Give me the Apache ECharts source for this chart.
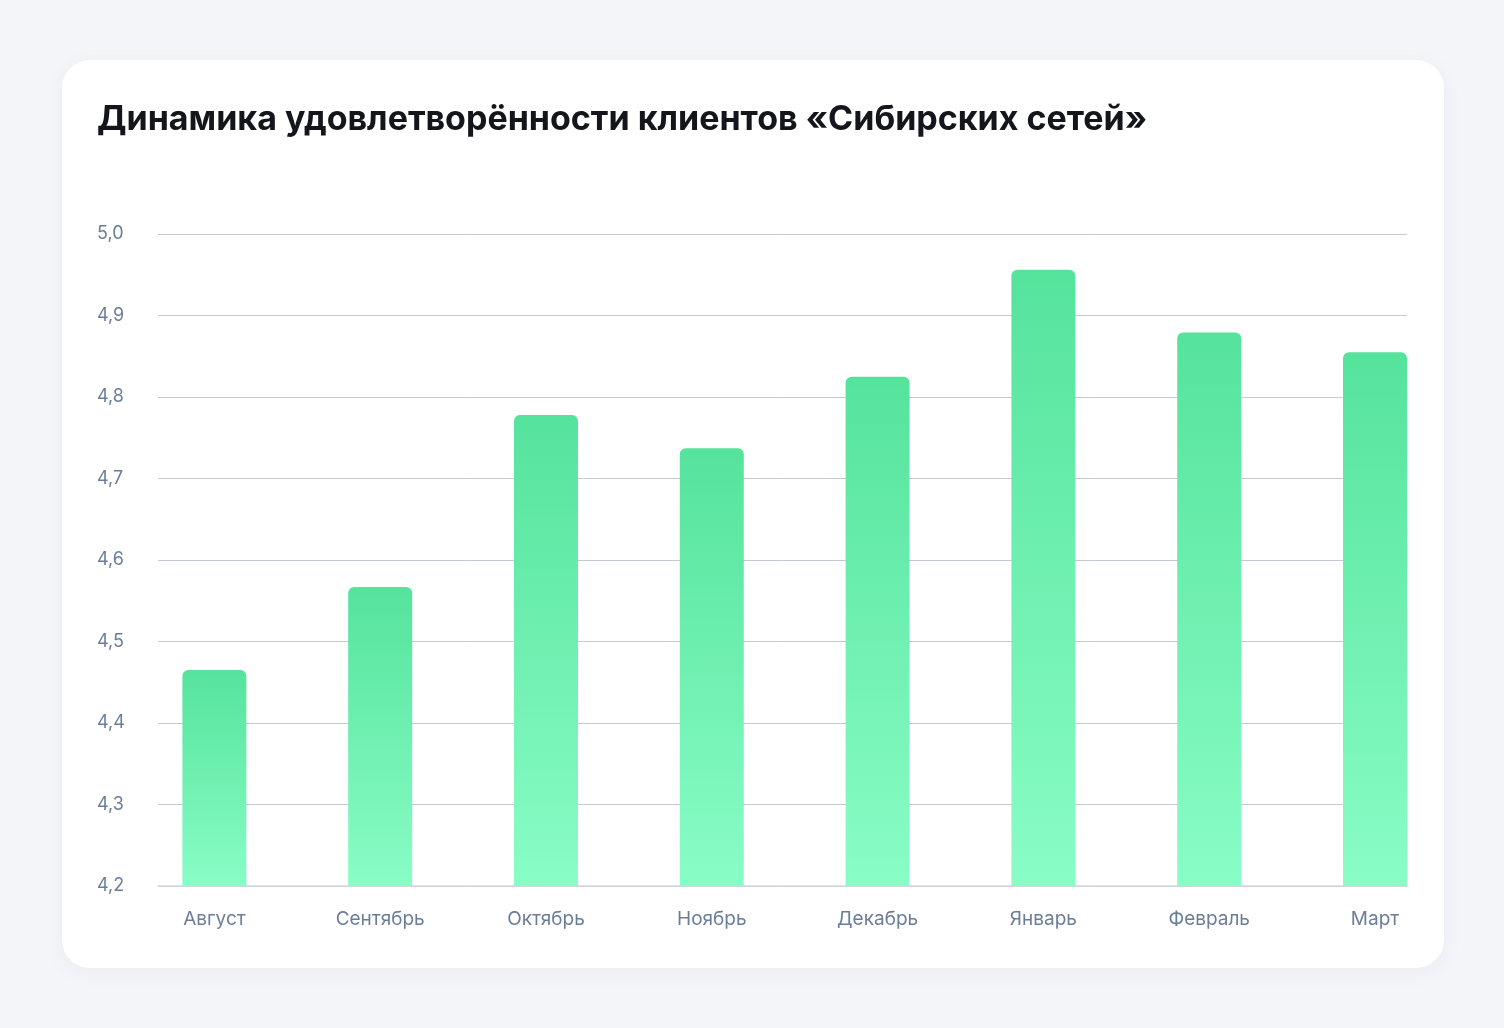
<!DOCTYPE html>
<html>
<head>
<meta charset="utf-8">
<script src="https://cdn.jsdelivr.net/npm/echarts@6/dist/echarts.min.js"></script>
<style>
html,body{margin:0;padding:0;background:#F4F5F9;width:1504px;height:1028px;overflow:hidden;}
#card{position:absolute;left:62px;top:60px;width:1382px;height:908px;background:#fff;border-radius:28px;box-shadow:0 4px 24px rgba(30,40,80,0.04);}
#chart{position:absolute;left:0;top:0;width:1504px;height:1028px;}
</style>
</head>
<body>
<div id="card"></div>
<div id="chart"></div>
<script>
const titleText = 'Динамика удовлетворённости клиентов «Сибирских сетей»';
const categories = ['Август','Сентябрь','Октябрь','Ноябрь','Декабрь','Январь','Февраль','Март'];
const values = [4.465, 4.567, 4.778, 4.737, 4.825, 4.956, 4.879, 4.855];
const yMin = 4.2, yMax = 5.0, yStep = 0.1;

const chart = echarts.init(document.getElementById('chart'), null, {renderer:'canvas'});
const font = 'Inter, "Noto Sans", sans-serif';
chart.setOption({
  backgroundColor: 'transparent',
  animation: false,
  title: {
    text: titleText,
    left: 92, top: 98,
    textStyle: {fontFamily: font, fontSize: 34, fontWeight: 'bold', color: '#14161C'}
  },
  grid: {left: 158, right: 97, top: 234, bottom: 142, containLabel: false},
  xAxis: {
    type: 'value',
    min: -0.340, max: 7.193,
    splitLine: {show: false},
    axisTick: {show: false},
    axisLine: {show: true, onZero: false, lineStyle: {color: '#D3D7DF', width: 1.5}},
    axisLabel: {
      customValues: categories.map((c, i) => i),
      formatter: v => categories[Math.round(v)] || '',
      margin: 24, fontFamily: font, fontSize: 19, color: '#6B7E99'
    }
  },
  yAxis: {
    type: 'value',
    min: yMin, max: yMax, interval: yStep,
    axisLine: {show: false},
    axisTick: {show: false},
    splitLine: {lineStyle: {color: '#C3CAD6', width: 1}},
    axisLabel: {
      formatter: v => v.toFixed(1).replace('.', ','),
      align: 'left', margin: 61,
      fontFamily: font, fontSize: 18, color: '#6B7E99'
    }
  },
  series: [{
    type: 'bar',
    barWidth: 64,
    clip: true,
    data: values.map((v, i) => [i, v]),
    itemStyle: {
      borderRadius: [6, 6, 0, 0],
      color: new echarts.graphic.LinearGradient(0, 0, 0, 1, [
        {offset: 0, color: '#55E39C'},
        {offset: 1, color: '#89FDC6'}
      ])
    }
  }]
});
</script>
</body>
</html>
